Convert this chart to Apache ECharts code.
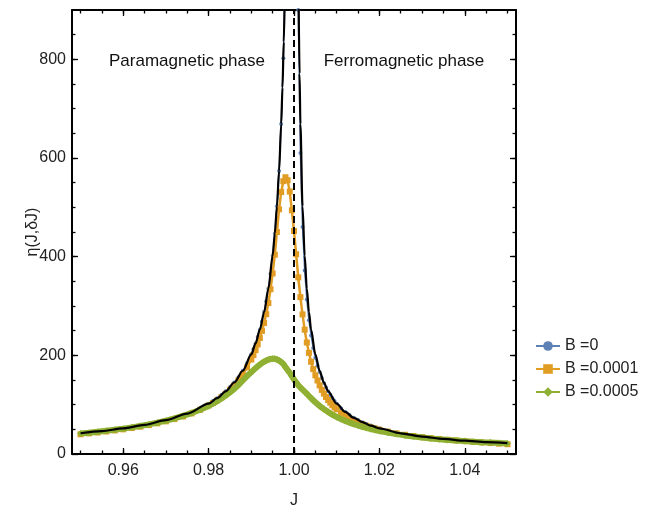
<!DOCTYPE html>
<html>
<head>
<meta charset="utf-8">
<script src="https://cdn.jsdelivr.net/npm/echarts@6/dist/echarts.min.js"></script>
<style>html,body{margin:0;padding:0;background:#fff}#c{width:668px;height:512px}</style>
</head>
<body>
<div id="c"></div>
<script>
const FONT = '"Liberation Sans", Arial, sans-serif';

// J grid of the numerical data
const J = [0.950,0.952,0.954,0.956,0.958,0.960,0.962,0.964,0.966,0.968,0.970,0.972,0.974,0.976,0.978,0.980,
0.981,0.982,0.983,0.984,0.985,0.986,0.987,0.988,0.989,
0.990,0.9905,0.991,0.9915,0.992,0.9925,0.993,0.9935,0.994,0.9945,0.995,0.9955,0.996,0.9965,0.997,0.9975,0.998,0.9985,0.999,0.9995,1.000,
1.0005,1.001,1.0015,1.002,1.0025,1.003,1.0035,1.004,1.0045,1.005,1.0055,1.006,1.0065,1.007,1.0075,1.008,1.0085,1.009,1.0095,1.010,
1.011,1.012,1.013,1.014,1.015,1.016,1.017,1.018,1.019,
1.020,1.022,1.024,1.026,1.028,1.030,1.032,1.034,1.036,1.038,1.040,1.042,1.044,1.046,1.048,1.050];

// B = 0
const etaB0 = [42,43.7,45.5,47.5,49.6,52,54.6,57.6,60.8,64.5,68.7,73.4,78.9,85.3,92.9,102,
107.3,113.1,119.6,127,135.3,144.9,155.8,168.7,183.8,
202,212.5,224.2,237.3,252,268.7,287.7,309.7,335.3,365.6,402,446.4,502,573.4,668.7,802,1002,1335,2002,4002,null,
1800,900,610,460,372,313,271,240,215,195,179,166,154,144,135,127,119.6,113.1,107.3,102,
92.9,85.3,78.9,73.4,68.7,64.5,60.8,57.6,54.6,
52,47.5,43.7,40.5,37.7,35.3,33.3,31.4,29.8,28.3,27,25.8,24.7,23.7,22.8,22];

// B = 0.0001
const etaB1 = [40,41.8,43.6,45.6,47.7,50,52.6,55.4,58.6,62.2,66.2,70.8,76.1,82.3,89.6,98.3,
103.3,108.8,115,122,130,139,149.5,161.5,175.5,
191.5,200.5,210.5,222,235,249.5,265.5,283.5,306,334,366,404,450,496,531,553,561,555,532,494,452,
405,358,318,283,252,226,205,187,172,159.5,149,139,130,122.5,115.5,109.5,104,99,94.5,90.5,
83.3,77.2,72,67.5,63.5,60,56.9,54.1,51.6,
49.3,45.3,41.9,39,36.5,34.3,32.3,30.5,28.9,27.4,26,24.7,23.4,22.2,21,19.8];

// B = 0.0005
const etaB5 = [41.5,43.2,45,47,49.1,51.4,54,56.8,60,63.5,67.5,72,77.2,83,89.8,97.5,
102,107,112.5,118.5,125,132,140,149,158,
166,170,174,177.8,181.2,184.3,187,189.4,191.3,192.6,193.2,192.9,191.6,189.4,186.3,182.4,176,170.5,164.5,158,151,
145,139.5,134.8,130.5,126.3,122.2,117.6,113.2,109,105,101.2,97.6,94.2,91,88,85.1,82.4,79.8,77.4,75.1,
70.9,67.1,63.7,60.6,57.8,55.2,52.8,50.6,48.6,
46.7,43.3,40.3,37.7,35.4,33.4,31.6,30,28.6,27.3,26.1,25,24,23.1,22.2,21.4];

// analytic (black) curve
const Jtheory = [0.950,0.955,0.960,0.965,0.970,0.975,0.980,0.982,0.984,0.986,0.988,0.990,0.991,0.992,0.993,0.994,0.995,0.9955,0.996,0.9965,0.997,0.9973,0.9976,0.9978,
1.000,
1.0011,1.0013,1.0015,1.002,1.0025,1.003,1.0035,1.004,1.005,1.006,1.007,1.008,1.010,1.012,1.014,1.016,1.018,1.020,1.025,1.030,1.035,1.040,1.045,1.050];
const etaTheory = [42,46.4,52,59.1,68.7,82,102,113.1,127,144.9,168.7,202,224.2,252,287.7,335.3,402,446.4,502,573.4,668.7,742.7,835.3,911,
null,
911,771,668.7,502,402,335.3,287.7,252,202,168.7,144.9,127,102,85.3,73.4,64.5,57.6,52,42,35.3,30.6,27,24.2,22];

const criticalJ = 1.0;

const xTicks = [0.96,0.98,1.00,1.02,1.04];
const xMinorTicks = [0.95,0.955,0.96,0.965,0.97,0.975,0.98,0.985,0.99,0.995,1.0,1.005,1.01,1.015,1.02,1.025,1.03,1.035,1.04,1.045,1.05];
const yTicks = [0,200,400,600,800];
const yMinorTicks = [50,100,150,200,250,300,350,400,450,500,550,600,650,700,750,800,850];

const seriesNames = ['B =0','B =0.0001','B =0.0005'];
const colors = ['#5E81B5','#E19C24','#8FB032'];

const X_MIN = 0.948, X_MAX = 1.052, Y_MIN = 0, Y_MAX = 900;

function pairs(xs, ys){ return xs.map((x,i)=>[x, ys[i]]); }

function xAx(pos, ticks, len, labels, line){
  return {
    type:'value', min:X_MIN, max:X_MAX, position:pos,
    axisLine:{show:line, onZero:false, lineStyle:{color:'#000', width:2}},
    axisTick:{show:true, inside:true, length:len, customValues:ticks, lineStyle:{color:'#000', width:1.3}},
    axisLabel: labels ? {show:true, customValues:ticks, formatter:v=>Number(v).toFixed(2), margin:9, fontSize:16, color:'#222', fontFamily:FONT} : {show:false},
    splitLine:{show:false}
  };
}
function yAx(pos, ticks, len, labels, line){
  return {
    type:'value', min:Y_MIN, max:Y_MAX, position:pos,
    axisLine:{show:line, onZero:false, lineStyle:{color:'#000', width:2}},
    axisTick:{show:true, inside:true, length:len, customValues:ticks, lineStyle:{color:'#000', width:1.3}},
    axisLabel: labels ? {show:true, customValues:ticks, formatter:v=>String(Math.round(v)), margin:6, fontSize:16, color:'#222', fontFamily:FONT} : {show:false},
    splitLine:{show:false}
  };
}

const xMain = xAx('bottom', xTicks, 6, true, true);
xMain.name = 'J'; xMain.nameLocation = 'middle'; xMain.nameGap = 39; xMain.nameMoveOverlap = false;
xMain.nameTextStyle = {fontSize:16, color:'#222', fontFamily:FONT};
const yMain = yAx('left', yTicks, 6, true, true);
yMain.name = 'η(J,δJ)'; yMain.nameLocation = 'middle'; yMain.nameGap = 31; yMain.nameMoveOverlap = false;
yMain.nameTextStyle = {fontSize:16, color:'#222', fontFamily:FONT};

const chart = echarts.init(document.getElementById('c'), null, {renderer:'canvas'});
chart.setOption({
  animation:false,
  backgroundColor:'#fff',
  grid:{left:72, right:152, top:10, bottom:58, containLabel:false, outerBoundsMode:'none'},
  xAxis:[ xMain, xAx('bottom', xMinorTicks, 3.5, false, false), xAx('top', xTicks, 6, false, true), xAx('top', xMinorTicks, 3.5, false, false) ],
  yAxis:[ yMain, yAx('left', yMinorTicks, 3.5, false, false), yAx('right', yTicks, 6, false, true), yAx('right', yMinorTicks, 3.5, false, false) ],
  legend:{
    orient:'vertical', left:530, top:333, itemWidth:24, itemHeight:12, itemGap:7,
    textStyle:{fontSize:16, color:'#222', fontFamily:FONT},
    data:seriesNames
  },
  graphic:[
    {type:'text', x:187, y:61, style:{text:'Paramagnetic phase', fill:'#111', font:'17px "Liberation Sans", Arial, sans-serif', align:'center', verticalAlign:'middle'}},
    {type:'text', x:404, y:61, style:{text:'Ferromagnetic phase', fill:'#111', font:'17px "Liberation Sans", Arial, sans-serif', align:'center', verticalAlign:'middle'}}
  ],
  series:[
    {name:seriesNames[0], type:'line', data:pairs(J, etaB0), color:colors[0], symbol:'circle', symbolSize:4, showAllSymbol:true, connectNulls:false, clip:true,
     lineStyle:{width:1.5, color:colors[0]}, itemStyle:{color:colors[0]}, z:2},
    {name:seriesNames[1], type:'line', data:pairs(J, etaB1), color:colors[1], symbol:'rect', symbolSize:6, showAllSymbol:true, clip:true,
     lineStyle:{width:2.5, color:colors[1]}, itemStyle:{color:colors[1]}, z:3},
    {name:seriesNames[2], type:'line', data:pairs(J, etaB5), color:colors[2], symbol:'diamond', symbolSize:7, showAllSymbol:true, clip:true,
     lineStyle:{width:6, color:colors[2]}, itemStyle:{color:colors[2]}, z:4},
    {name:'theory', type:'line', data:pairs(Jtheory, etaTheory), symbol:'none', connectNulls:false, clip:true, smooth:0.3, smoothMonotone:'x',
     lineStyle:{width:2.2, color:'#000'}, z:5,
     markLine:{silent:true, symbol:['none','none'], label:{show:false},
       lineStyle:{color:'#000', width:2, type:[7,4]},
       data:[{xAxis:criticalJ}]}}
  ]
});
</script>
</body>
</html>
